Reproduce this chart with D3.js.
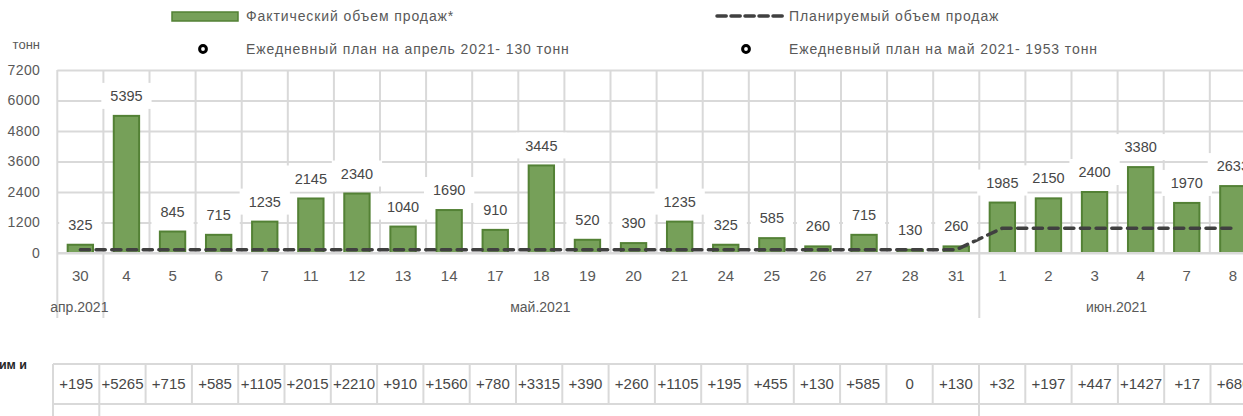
<!DOCTYPE html>
<html>
<head>
<meta charset="utf-8">
<script src="https://cdn.jsdelivr.net/npm/d3@7"></script>
<style>
  html, body { margin: 0; padding: 0; background: #fff; }
  svg { display: block; font-family: "Liberation Sans", Arial, sans-serif; }
</style>
</head>
<body>
<svg id="chart" width="1243" height="416"></svg>
<script>
// Trading days shown on the category axis
const days = ["30","4","5","6","7","11","12","13","14","17","18","19","20","21","24","25","26","27","28","31","1","2","3","4","7","8"];
// Month group for each day
const months = ["апр.2021",
  "май.2021","май.2021","май.2021","май.2021","май.2021","май.2021","май.2021","май.2021","май.2021","май.2021",
  "май.2021","май.2021","май.2021","май.2021","май.2021","май.2021","май.2021","май.2021","май.2021",
  "июн.2021","июн.2021","июн.2021","июн.2021","июн.2021","июн.2021"];
// Actual daily sales, tonnes
const actual = [325,5395,845,715,1235,2145,2340,1040,1690,910,3445,520,390,1235,325,585,260,715,130,260,1985,2150,2400,3380,1970,2633];
// Planned daily sales, tonnes
const plan = [130,130,130,130,130,130,130,130,130,130,130,130,130,130,130,130,130,130,130,130,976,976,976,976,976,976];
// Deviation from the daily plan, tonnes
const deviation = [195,5265,715,585,1105,2015,2210,910,1560,780,3315,390,260,1105,195,455,130,585,0,130,32,197,447,1427,17,680];
// Value axis ticks
const yTicks = [0,1200,2400,3600,4800,6000,7200];

const legendItems = [
  {type: "bar",  label: "Фактический объем продаж*"},
  {type: "dash", label: "Планируемый объем продаж"},
  {type: "dot",  label: "Ежедневный план на апрель 2021- 130 тонн"},
  {type: "dot",  label: "Ежедневный план на май 2021-  1953 тонн"}
];

const barFill = "#76a059", barStroke = "#538135";
const gridColor = "#d9d9d9", textColor = "#474747", axisColor = "#595959";

const svg = d3.select("#chart");

const n = days.length;
const plotLeft = 57.3, step = 46.1;
const x = d3.scaleBand()
  .domain(d3.range(n))
  .range([plotLeft, plotLeft + n * step])
  .paddingInner(0.45)
  .paddingOuter(0.225);
const y = d3.scaleLinear().domain([0, 7200]).range([253, 70]);
const cx = i => x(i) + x.bandwidth() / 2;
const edge = i => x.range()[0] + i * x.step();

// Horizontal gridlines and value ticks
const yAxis = svg.append("g")
  .attr("transform", `translate(${plotLeft},0)`)
  .call(d3.axisLeft(y).tickValues(yTicks).tickSize(-(n * step)).tickPadding(17).tickFormat(d3.format("d")));
yAxis.select(".domain").remove();
yAxis.selectAll(".tick line").attr("stroke", gridColor).attr("stroke-width", 2);
yAxis.selectAll(".tick text")
  .attr("fill", axisColor).style("font-size", "14px").style("letter-spacing", "0.4px");

// Vertical gridlines between days
svg.append("g").selectAll("line")
  .data(d3.range(n + 1))
  .join("line")
  .attr("x1", edge).attr("x2", edge)
  .attr("y1", y(7200)).attr("y2", y(0))
  .attr("stroke", gridColor).attr("stroke-width", 2);

// Month group separators extending through the label area
const groupEdges = d3.range(n + 1).filter(i => i === 0 || i === n || months[i] !== months[i - 1]);
svg.append("g").selectAll("line")
  .data(groupEdges)
  .join("line")
  .attr("x1", edge).attr("x2", edge)
  .attr("y1", y(0)).attr("y2", 318)
  .attr("stroke", gridColor).attr("stroke-width", 2);

// Unit label
svg.append("text").attr("x", 40).attr("y", 49).attr("text-anchor", "end")
  .attr("fill", axisColor).style("font-size", "13px").text("тонн");

// Bars
svg.append("g").selectAll("rect")
  .data(actual)
  .join("rect")
  .attr("x", (d, i) => x(i))
  .attr("y", d => y(d))
  .attr("width", x.bandwidth())
  .attr("height", d => y(0) - y(d))
  .attr("fill", barFill)
  .attr("stroke", barStroke)
  .attr("stroke-width", 2);

// Planned sales line
const planLine = d3.line().x((d, i) => cx(i)).y(d => y(d));
svg.append("path")
  .datum(plan)
  .attr("d", planLine)
  .attr("fill", "none")
  .attr("stroke", "#404040")
  .attr("stroke-width", 3.5)
  .attr("stroke-linecap", "round")
  .attr("stroke-dasharray", "9.2,6.5");

// Value labels with white backing
const lbl = svg.append("g").selectAll("g")
  .data(actual)
  .join("g")
  .attr("transform", (d, i) => `translate(${cx(i)},${y(d) - 20})`);
lbl.append("text")
  .attr("text-anchor", "middle")
  .attr("dy", "0.35em")
  .attr("fill", textColor)
  .style("font-size", "14.5px")
  .text(d => d);
lbl.each(function () {
  const g = d3.select(this);
  const bb = g.select("text").node().getBBox();
  g.insert("rect", "text")
    .attr("x", bb.x - 9).attr("y", -13)
    .attr("width", bb.width + 18).attr("height", 26)
    .attr("fill", "#fff");
});

// Day labels
const xAxis = svg.append("g")
  .attr("transform", `translate(0,${y(0)})`)
  .call(d3.axisBottom(x).tickSize(0).tickPadding(17).tickFormat(i => days[i]));
xAxis.select(".domain").attr("stroke", gridColor).attr("stroke-width", 2)
  .attr("d", `M${plotLeft},0H${plotLeft + n * step}`);
xAxis.selectAll(".tick text").attr("fill", axisColor).style("font-size", "15px");

// Month labels
const groups = d3.groups(d3.range(n), i => months[i]);
svg.append("g").selectAll("text")
  .data(groups)
  .join("text")
  .attr("x", ([, idx]) => (edge(idx[0]) + edge(idx[idx.length - 1] + 1)) / 2 - 1)
  .attr("y", 312)
  .attr("text-anchor", "middle")
  .attr("fill", axisColor)
  .style("font-size", "14px")
  .text(([m]) => m);

// Legend
const legendPos = [[172, 16], [715, 16], [172, 49], [715, 49]];
const lg = svg.append("g").selectAll("g")
  .data(legendItems)
  .join("g")
  .attr("transform", (d, i) => `translate(${legendPos[i][0]},${legendPos[i][1]})`);
lg.filter(d => d.type === "bar").append("rect")
  .attr("x", 0).attr("y", -4).attr("width", 66).attr("height", 9)
  .attr("fill", barFill).attr("stroke", barStroke).attr("stroke-width", 1.5);
lg.filter(d => d.type === "dash").append("line")
  .attr("x1", 2).attr("x2", 68).attr("y1", 0).attr("y2", 0)
  .attr("stroke", "#404040").attr("stroke-width", 3.5)
  .attr("stroke-linecap", "round").attr("stroke-dasharray", "9.2,4.8");
lg.filter(d => d.type === "dot").append("circle")
  .attr("cx", 31).attr("cy", 0).attr("r", 3.4)
  .attr("fill", "#fff").attr("stroke", "#000").attr("stroke-width", 3);
lg.append("text")
  .attr("x", 74).attr("dy", "0.35em")
  .attr("fill", axisColor)
  .style("font-size", "14px")
  .style("letter-spacing", "0.9px")
  .text(d => d.label);

// Deviation table
const tLeft = 53, tStep = 46.3;
const tx = d3.scaleBand().domain(d3.range(n)).range([tLeft, tLeft + n * tStep]);
const tEdge = i => tx.range()[0] + i * tx.step();
const row1Top = 364, row1Bottom = 404, tableBottom = 430;
const tbl = svg.append("g");
tbl.selectAll("line.h")
  .data([row1Top, row1Bottom])
  .join("line")
  .attr("x1", tLeft).attr("x2", tLeft + n * tStep)
  .attr("y1", d => d).attr("y2", d => d)
  .attr("stroke", gridColor).attr("stroke-width", 2);
tbl.selectAll("line.v")
  .data(d3.range(n + 1))
  .join("line")
  .attr("x1", tEdge).attr("x2", tEdge)
  .attr("y1", row1Top).attr("y2", row1Bottom)
  .attr("stroke", gridColor).attr("stroke-width", 2);
tbl.selectAll("line.g")
  .data(groupEdges)
  .join("line")
  .attr("x1", tEdge).attr("x2", tEdge)
  .attr("y1", row1Bottom).attr("y2", tableBottom)
  .attr("stroke", gridColor).attr("stroke-width", 2);
tbl.selectAll("text")
  .data(deviation)
  .join("text")
  .attr("x", (d, i) => tx(i) + tx.bandwidth() / 2)
  .attr("y", (row1Top + row1Bottom) / 2)
  .attr("dy", "0.35em")
  .attr("text-anchor", "middle")
  .attr("fill", textColor)
  .style("font-size", "15px")
  .text(d => d > 0 ? "+" + d : String(d));

// Row header
svg.append("text")
  .attr("x", 27).attr("y", 369)
  .attr("text-anchor", "end")
  .attr("fill", "#262626")
  .style("font-size", "12.5px")
  .style("font-weight", "bold")
  .text("фактическим и");
</script>
</body>
</html>
